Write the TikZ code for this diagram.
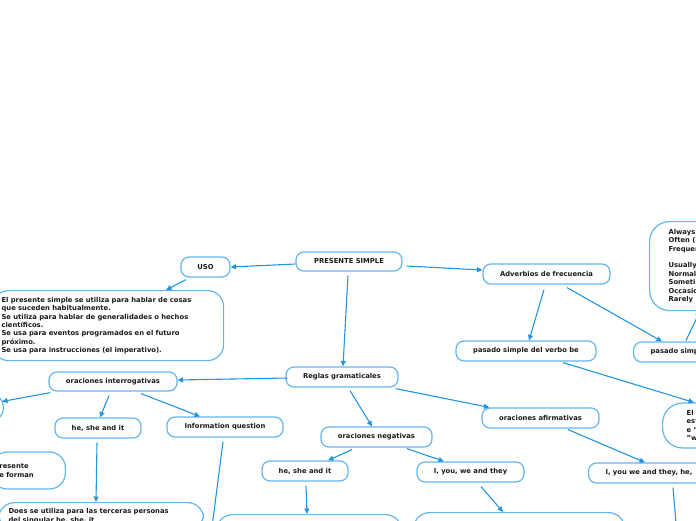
\documentclass[tikz,border=0pt]{standalone}
\usepackage{fontspec}
\setmainfont{DejaVu Sans}
\usetikzlibrary{arrows.meta,calc}
\definecolor{bd}{HTML}{64B5EC}
\definecolor{ln}{HTML}{2196DF}
\definecolor{tx}{HTML}{1A1A1A}
\begin{document}
\begin{tikzpicture}[x=1pt,y=-1pt,
  font=\fontsize{6.8pt}{8.4pt}\selectfont\bfseries,
  box/.style={draw=bd, line width=1.2pt, rounded corners=8pt, text=tx, inner sep=0pt, align=center},
  pill/.style={box, minimum height=20pt},
  bigbox/.style={box, rounded corners=16pt},
  conn/.style={draw=ln, line width=1.1pt, -{Triangle[length=5.5pt,width=5pt]}}]
\useasboundingbox (0,0) rectangle (696,520);
\clip (0,0) rectangle (696,520);

% nodes
\node[pill, minimum width=106pt, minimum height=19pt] (ps) at (349,261.5) {PRESENTE SIMPLE};
\node[pill, minimum width=49pt] (uso) at (205.5,267) {USO};
\node[bigbox, anchor=north west, minimum height=70pt, text width=213pt, inner xsep=9pt, align=left] (usot) at (-8,290)
  {El presente simple se utiliza para hablar de cosas\\que suceden habitualmente.\\Se utiliza para hablar de generalidades o hechos\\científicos.\\Se usa para eventos programados en el futuro\\próximo.\\Se usa para instrucciones (el imperativo).};
\node[pill, minimum width=127pt] (adv) at (546.5,274) {Adverbios de frecuencia};
\node[box, rounded corners=20pt, anchor=north west, minimum height=89pt, text width=100pt, inner xsep=19pt, align=left] (alw) at (649,221)
  {Always\\Often (\\Frequen\\[8.4pt]Usually\\Normal\\Someti\\Occasio\\Rarely};
\node[pill, minimum width=140pt] (pvb) at (526,351) {pasado simple del verbo be};
\node[pill, anchor=west, text width=120pt, inner xsep=17pt, align=left] (ps2) at (633,352) {pasado simp};
\node[pill, minimum width=112pt] (reg) at (342,377) {Reglas gramaticales};
\node[pill, minimum width=128pt, minimum height=19pt] (int) at (113,381.5) {oraciones interrogativas};
\node[box, rounded corners=12pt, anchor=east, minimum width=60pt, minimum height=26pt] (lft) at (4,407.5) {};
\node[pill, minimum width=86pt] (hs1) at (98,428) {he, she and it};
\node[pill, minimum width=116pt] (inf) at (225,427) {Information question};
\node[pill, minimum width=111pt] (neg) at (376.5,437) {oraciones negativas};
\node[pill, minimum width=117pt] (afi) at (540.5,418) {oraciones afirmativas};
\node[box, rounded corners=20pt, anchor=west, minimum height=45pt, text width=60pt, inner xsep=24pt, align=left] (el) at (662,425.5) {El\\est\\e "\\"w};
\node[bigbox, anchor=east, minimum height=37pt, text width=58pt, inner xsep=8pt, align=left] (pre) at (66,470.5) {resente\\e forman};
\node[pill, minimum width=86pt] (hs2) at (305,471) {he, she and it};
\node[pill, minimum width=107pt] (iyw) at (470.5,472) {I, you, we and they};
\node[pill, anchor=west, text width=120pt, inner xsep=17pt, align=left] (iwh) at (588,473) {I, you we and they, he,};
\node[bigbox, anchor=north west, text width=185pt, inner xsep=10pt, inner ysep=6pt, align=left] (does) at (-2,502)
  {Does se utiliza para las terceras personas\\del singular he, she, it};
\node[bigbox, anchor=north west, minimum width=185pt, minimum height=40pt] (b2) at (216,514) {};
\node[bigbox, anchor=north west, minimum width=211pt, minimum height=40pt] (b3) at (413,512) {};

\coordinate (infend) at (211,535);
\coordinate (iwhend) at (677,535);

% connectors
\draw[conn] ($(ps.west)+(0,2.5)$) -- (uso.east);
\draw[conn] ($(uso.south)+(-19.5,2)$) -- ($(usot.north west)+(174,0)$);
\draw[conn] ($(ps.east)+(4,4.5)$) -- ($(adv.west)+(0,-4)$);
\draw[conn] ($(ps.south)+(-1,4)$) -- ($(reg.north)+(1,0)$);
\draw[conn] ($(adv.south)+(-2.5,5)$) -- ($(pvb.north)+(3,0)$);
\draw[conn] ($(adv.south)+(20.5,3)$) -- ($(ps2.north west)+(29,0)$);
\draw[conn] ($(ps2.north west)+(53,-1)$) -- ($(alw.south west)+(51,0)$);
\draw[conn] ($(pvb.south)+(37,1)$) -- ($(el.north west)+(32,0)$);
\draw[conn] ($(reg.west)+(2,1)$) -- ($(int.east)+(0,-1.5)$);
\draw[conn] ($(reg.south)+(8,3)$) -- ($(neg.north)+(-4.5,0)$);
\draw[conn] ($(reg.south east)+(-3,1)$) -- ($(afi.north west)+(8,0)$);
\draw[conn] ($(int.south west)+(2,1)$) -- ($(lft.east)+(-2,-6)$);
\draw[conn] ($(int.south)+(-4,4)$) -- ($(hs1.north)+(2,0)$);
\draw[conn] ($(int.south)+(28,2)$) -- ($(inf.north)+(-25,0)$);
\draw[conn] ($(hs1.south)+(-1,4)$) -- ($(does.north west)+(98,0)$);
\draw[conn] ($(inf.south)+(-2,4)$) -- (infend);
\draw[conn] ($(neg.south)+(-24.5,2)$) -- ($(hs2.north)+(23,0)$);
\draw[conn] ($(neg.south)+(30.5,1)$) -- ($(iyw.north)+(-26.5,0)$);
\draw[conn] ($(afi.south)+(27.5,1)$) -- ($(iwh.north west)+(57,0)$);
\draw[conn] ($(hs2.south)+(1,4)$) -- ($(b2.north west)+(91,0)$);
\draw[conn] ($(iyw.south)+(10.5,4)$) -- ($(b3.north west)+(90,0)$);
\draw[conn] ($(iwh.south west)+(85,4)$) -- (iwhend);
\end{tikzpicture}
\end{document}
